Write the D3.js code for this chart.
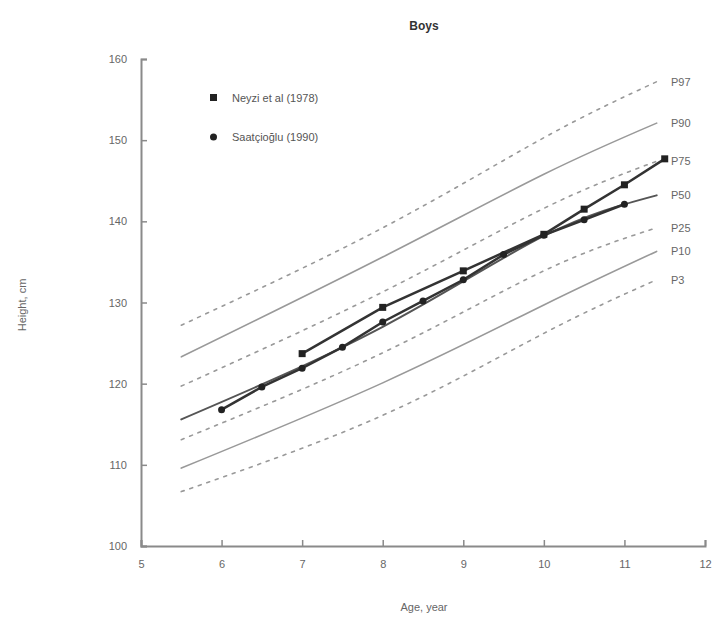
<!DOCTYPE html>
<html><head><meta charset="utf-8">
<script src="https://cdn.jsdelivr.net/npm/d3@7"></script>
<style>body{margin:0;background:#fff}svg{display:block}</style>
</head><body>
<svg id="c" width="716" height="626"></svg>
<script>
// Percentile reference curves (height, cm) at ages
const pctAges = [5.5, 8, 10, 11.4];
const P97 = [127.2, 139.2, 150.3, 157.2];
const P90 = [123.3, 135.6, 145.8, 152.1];
const P75 = [119.7, 131.3, 141.6, 147.4];
const P50 = [115.6, 127.0, 138.2, 143.2];
const P25 = [113.1, 123.8, 133.9, 139.2];
const P10 = [109.6, 120.1, 129.7, 136.3];
const P3  = [106.7, 116.1, 126.2, 132.8];
const pctNames = ["P97","P90","P75","P50","P25","P10","P3"];
const pctDashed = [true,false,true,false,true,false,true];

// Study series
const neyziAges = [7, 8, 9, 10, 10.5, 11, 11.5];
const neyziVals = [123.7, 129.4, 133.9, 138.4, 141.5, 144.5, 147.7];
const saatAges = [6, 6.5, 7, 7.5, 8, 8.5, 9, 9.5, 10, 10.5, 11];
const saatVals = [116.8, 119.6, 121.9, 124.5, 127.6, 130.2, 132.8, 135.9, 138.3, 140.2, 142.1];

const xTicks = [5, 6, 7, 8, 9, 10, 11, 12];
const yTicks = [100, 110, 120, 130, 140, 150, 160];
const legendLabels = ["Neyzi et al (1978)", "Saatçioğlu (1990)"];

const svg = d3.select("#c");
const x = d3.scaleLinear().domain([5, 12]).range([141, 705]);
const y = d3.scaleLinear().domain([100, 160]).range([546, 59]);
const font = "Liberation Sans, Arial, sans-serif";
const grey = "#8a8a8a";

// axes
const xAxis = d3.axisBottom(x).tickValues(xTicks).tickSize(-6).tickPadding(14).tickFormat(d3.format("d"));
const yAxis = d3.axisLeft(y).tickValues(yTicks).tickSize(-6).tickPadding(14).tickFormat(d3.format("d"));
const gx = svg.append("g").attr("transform", `translate(0,${y(100)})`).call(xAxis);
const gy = svg.append("g").attr("transform", `translate(${x(5)},0)`).call(yAxis);
[gx, gy].forEach(g => {
  g.select(".domain").attr("stroke", grey).attr("stroke-width", 2);
  g.selectAll(".tick line").attr("stroke", grey).attr("stroke-width", 1.5);
  g.selectAll(".tick text").attr("fill", "#666").attr("font-family", font).attr("font-size", 11);
});

// percentile curves
const pctSeries = [P97, P90, P75, P50, P25, P10, P3];
const line = d3.line().x(d => x(d[0])).y(d => y(d[1])).curve(d3.curveNatural);
pctSeries.forEach((vals, i) => {
  const pts = pctAges.map((a, j) => [a, vals[j]]);
  svg.append("path").attr("d", line(pts)).attr("fill", "none")
    .attr("stroke", pctNames[i] === "P50" ? "#555" : "#999")
    .attr("stroke-width", pctNames[i] === "P50" ? 2 : 1.6)
    .attr("stroke-dasharray", pctDashed[i] ? "3,6" : null)
    .attr("stroke-linecap", "round");
  svg.append("text").attr("x", 671).attr("y", y(vals[vals.length - 1]) + 4)
    .attr("font-family", font).attr("font-size", 11).attr("fill", "#666").text(pctNames[i]);
});

// study lines
const lin = d3.line().x(d => x(d[0])).y(d => y(d[1]));
const neyzi = neyziAges.map((a, i) => [a, neyziVals[i]]);
const saat = saatAges.map((a, i) => [a, saatVals[i]]);
[neyzi, saat].forEach(pts => {
  svg.append("path").attr("d", lin(pts)).attr("fill", "none")
    .attr("stroke", "#333").attr("stroke-width", 2.5);
});
svg.selectAll(".sq").data(neyzi).enter().append("rect")
  .attr("x", d => x(d[0]) - 3.5).attr("y", d => y(d[1]) - 3.5)
  .attr("width", 7).attr("height", 7).attr("fill", "#222");
svg.selectAll(".ci").data(saat).enter().append("circle")
  .attr("cx", d => x(d[0])).attr("cy", d => y(d[1])).attr("r", 3.5).attr("fill", "#222");

// legend
svg.append("rect").attr("x", 210).attr("y", 94).attr("width", 7).attr("height", 7).attr("fill", "#222");
svg.append("circle").attr("cx", 213.5).attr("cy", 137).attr("r", 3.5).attr("fill", "#222");
svg.append("text").attr("x", 232).attr("y", 102).attr("font-family", font).attr("font-size", 11).attr("fill", "#555").text(legendLabels[0]);
svg.append("text").attr("x", 232).attr("y", 141).attr("font-family", font).attr("font-size", 11).attr("fill", "#555").text(legendLabels[1]);

// titles
svg.append("text").attr("x", 424).attr("y", 30).attr("text-anchor", "middle")
  .attr("font-family", font).attr("font-size", 12).attr("font-weight", "bold").attr("fill", "#333").text("Boys");
svg.append("text").attr("x", 424).attr("y", 611).attr("text-anchor", "middle")
  .attr("font-family", font).attr("font-size", 11).attr("fill", "#666").text("Age, year");
svg.append("text").attr("transform", "translate(26,305) rotate(-90)").attr("text-anchor", "middle")
  .attr("font-family", font).attr("font-size", 11).attr("fill", "#666").text("Height, cm");
</script>
</body></html>
